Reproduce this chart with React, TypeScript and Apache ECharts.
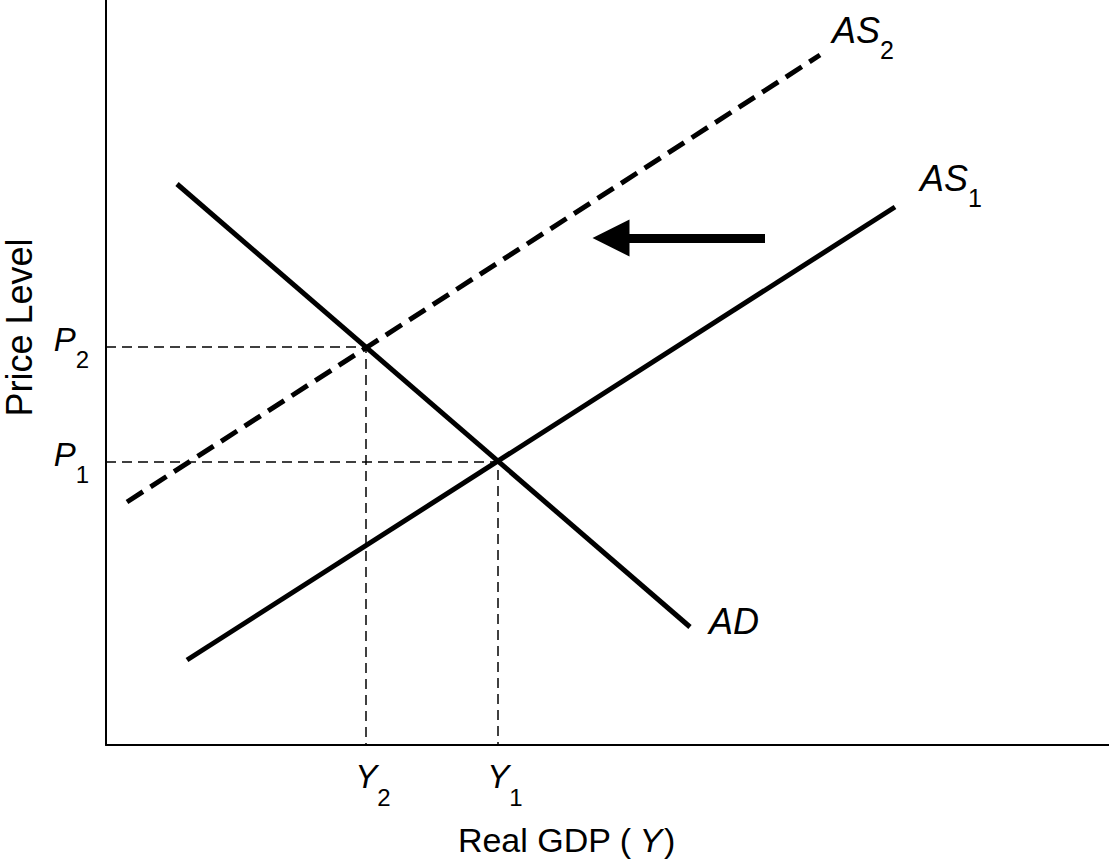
import React, { useEffect, useRef } from "react";
import * as echarts from "echarts";

// Data space: x from 0 to 1003 (Real GDP), y from 0 to 745 (Price Level)
const X_MAX = 1003;
const Y_MAX = 745;

const AD: number[][] = [[71, 561], [584, 118]];
const AS1: number[][] = [[81, 85], [789, 538]];
const AS2: number[][] = [[21, 243], [714, 690]];
const E1: number[] = [392, 283]; // (Y1, P1)
const E2: number[] = [260, 398]; // (Y2, P2)
const SHIFT_ARROW: number[][] = [[659, 507], [505, 507]];

const X_TICKS = [E2[0], E1[0]];
const X_TICK_LABELS = ["2", "1"];
const Y_TICKS = [E1[1], E2[1]];
const Y_TICK_LABELS = ["1", "2"];

const FONT = '"Liberation Sans", Arial, Helvetica, sans-serif';
const BLACK = "#000000";

const subRich = (main: number, sub: number, drop: number) => ({
  m: { fontSize: main, fontStyle: "italic", fontFamily: FONT, color: BLACK, verticalAlign: "bottom", padding: [0, 0, drop, 0] },
  s: { fontSize: sub, fontFamily: FONT, color: BLACK, verticalAlign: "bottom" },
});

export default function App() {
  const ref = useRef<HTMLDivElement>(null);
  useEffect(() => {
    if (!ref.current) return;
    const chart = echarts.init(ref.current, null, { renderer: "svg" });
    const guide = (e: number[]) => [[0, e[1]], [e[0], e[1]], [e[0], 0]];
    const option: any = {
      animation: false,
      backgroundColor: "#ffffff",
      grid: { left: 106, right: 0, top: 0, bottom: 118, outerBoundsMode: "none" },
      xAxis: {
        type: "value",
        min: 0,
        max: X_MAX,
        splitLine: { show: false },
        axisTick: { show: false },
        axisLine: { show: true, onZero: false, lineStyle: { color: BLACK, width: 2 } },
        axisLabel: {
          show: true,
          customValues: X_TICKS,
          margin: 15,
          formatter: (v: number) => `{m|Y}{s|${X_TICK_LABELS[X_TICKS.indexOf(v)]}}`,
          rich: { ...subRich(33, 24, 16), m: { ...subRich(33, 24, 16).m, padding: [0, 0, 16, 14] } },
        },
        name: "{n|Real GDP (}{i|Y}{n|)}",
        nameLocation: "middle",
        nameGap: 78,
        nameTextStyle: {
          padding: [0, 82, 0, 0],
          rich: {
            n: { fontSize: 34, fontFamily: FONT, color: BLACK },
            i: { fontSize: 34, fontFamily: FONT, fontStyle: "italic", color: BLACK, padding: [0, 2, 0, 8] },
          },
        },
      },
      yAxis: {
        type: "value",
        min: 0,
        max: Y_MAX,
        splitLine: { show: false },
        axisTick: { show: false },
        axisLine: { show: true, onZero: false, lineStyle: { color: BLACK, width: 2 } },
        axisLabel: {
          show: true,
          customValues: Y_TICKS,
          margin: 17,
          formatter: (v: number) => `{m|P}{s|${Y_TICK_LABELS[Y_TICKS.indexOf(v)]}}`,
          rich: subRich(33, 24, 16),
        },
        name: "Price Level",
        nameLocation: "middle",
        nameGap: 69,
        nameTextStyle: { fontSize: 36, fontFamily: FONT, color: BLACK, padding: [0, 0, 0, 90] },
      },
      series: [
        {
          name: "Guide E2",
          type: "line",
          data: guide(E2),
          symbol: "none",
          silent: true,
          lineStyle: { color: BLACK, width: 1.5, type: [10, 6] },
        },
        {
          name: "Guide E1",
          type: "line",
          data: guide(E1),
          symbol: "none",
          silent: true,
          lineStyle: { color: BLACK, width: 1.5, type: [10, 6] },
        },
        {
          name: "AS2",
          type: "line",
          data: AS2,
          symbol: "none",
          lineStyle: { color: BLACK, width: 5, type: [19, 9] },
          endLabel: {
            show: true,
            offset: [4, -18],
            formatter: "{m|AS}{s|2}",
            rich: subRich(36, 25, 14),
          },
        },
        {
          name: "AS1",
          type: "line",
          data: AS1,
          symbol: "none",
          lineStyle: { color: BLACK, width: 5 },
          endLabel: {
            show: true,
            offset: [17, -22],
            formatter: "{m|AS}{s|1}",
            rich: subRich(36, 25, 14),
          },
        },
        {
          name: "AD",
          type: "line",
          data: AD,
          symbol: "none",
          lineStyle: { color: BLACK, width: 5 },
          endLabel: {
            show: true,
            offset: [11, -6],
            formatter: "{m|AD}",
            rich: subRich(36, 25, 0),
          },
        },
        {
          name: "Shift",
          type: "lines",
          coordinateSystem: "cartesian2d",
          symbol: ["none", "triangle"],
          symbolSize: [22, 37],
          lineStyle: { color: BLACK, width: 9, opacity: 1 },
          itemStyle: { color: BLACK },
          data: [{ coords: SHIFT_ARROW }],
        },
      ],
    };
    chart.setOption(option);
    return () => chart.dispose();
  }, []);
  return (
    <div
      ref={ref}
      style={{ position: "fixed", left: 0, top: 0, width: 1109, height: 863, background: "#fff" }}
    />
  );
}
